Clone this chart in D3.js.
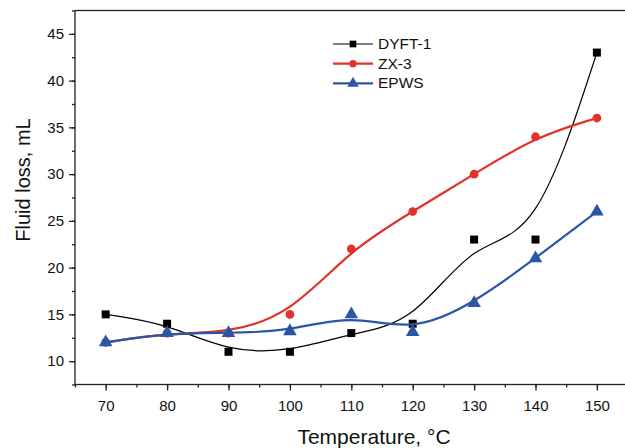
<!DOCTYPE html>
<html>
<head>
<meta charset="utf-8">
<script src="https://cdn.jsdelivr.net/npm/d3@7"></script>
<style>
  body { margin: 0; background: #fff; }
  svg { font-family: "Liberation Sans", Arial, sans-serif; }
</style>
</head>
<body>
<div id="chart"></div>
<script>
// temperatures, °C
var temps = [70, 80, 90, 100, 110, 120, 130, 140, 150];
// fluid loss, mL
var dyft = [15, 14, 11, 11, 13, 14, 23, 23, 43];
var zx3 = [12, 13, 13, 15, 22, 26, 30, 34, 36];
var epws = [12, 13, 13, 13.2, 15, 13.1, 16.2, 21, 26];
var seriesNames = ["DYFT-1", "ZX-3", "EPWS"];
var xTicks = [70, 80, 90, 100, 110, 120, 130, 140, 150];
var yTicks = [10, 15, 20, 25, 30, 35, 40, 45];

var W = 625, H = 448;
// plot box (right edge lies just past the window)
var plotLeft = 75, plotTop = 10.5, plotBottom = 384.5, plotRight = 627.6;

var svg = d3.select("#chart").append("svg")
    .attr("width", W)
    .attr("height", H);

var x = d3.scaleLinear().domain([65, 155]).range([plotLeft, plotRight]);
var y = d3.scaleLinear().domain([7.5, 47.5]).range([plotBottom, plotTop]);

// frame
svg.append("rect")
    .attr("x", plotLeft).attr("y", plotTop)
    .attr("width", plotRight - plotLeft).attr("height", plotBottom - plotTop)
    .attr("fill", "none").attr("stroke", "#222").attr("stroke-width", 1.3);

// minor ticks
svg.append("g")
    .attr("transform", "translate(0," + plotBottom + ")")
    .call(d3.axisBottom(x).tickValues(d3.range(65, 156, 5)).tickSize(3).tickFormat(""))
    .call(function (g) { g.select(".domain").remove(); });
svg.append("g")
    .attr("transform", "translate(" + plotLeft + ",0)")
    .call(d3.axisLeft(y).tickValues(d3.range(7.5, 47.6, 2.5)).tickSize(3).tickFormat(""))
    .call(function (g) { g.select(".domain").remove(); });

// major ticks
var xAxis = svg.append("g")
    .attr("transform", "translate(0," + plotBottom + ")")
    .call(d3.axisBottom(x).tickValues(xTicks).tickSize(6).tickPadding(10));
xAxis.select(".domain").remove();
xAxis.selectAll("text").attr("font-size", "15px").attr("fill", "#111");

var yAxis = svg.append("g")
    .attr("transform", "translate(" + plotLeft + ",0)")
    .call(d3.axisLeft(y).tickValues(yTicks).tickSize(6).tickPadding(5));
yAxis.select(".domain").remove();
yAxis.selectAll("text").attr("font-size", "15px").attr("fill", "#111");

svg.selectAll(".tick line").attr("stroke", "#222").attr("stroke-width", 1.3);

// axis titles
svg.append("text")
    .attr("x", 374).attr("y", 443.5)
    .attr("text-anchor", "middle")
    .attr("font-size", "21px")
    .attr("fill", "#111")
    .text("Temperature, \u00B0C");

svg.append("text")
    .attr("transform", "translate(30,180) rotate(-90)")
    .attr("text-anchor", "middle")
    .attr("font-size", "20px")
    .attr("fill", "#111")
    .text("Fluid loss, mL");

// series
var series = [
    { name: seriesNames[0], values: dyft, color: "#000000", width: 1.2, shape: d3.symbolSquare, size: 64 },
    { name: seriesNames[1], values: zx3, color: "#e2312b", width: 2.2, shape: d3.symbolCircle, size: 60 },
    { name: seriesNames[2], values: epws, color: "#2b56a6", width: 2.2, shape: d3.symbolTriangle, size: 80 }
];

var line = d3.line()
    .x(function (d) { return x(d[0]); })
    .y(function (d) { return y(d[1]); })
    .curve(d3.curveBasis);

series.forEach(function (s) {
    var pts = temps.map(function (t, i) { return [t, s.values[i]]; });
    svg.append("path")
        .datum(pts)
        .attr("d", line)
        .attr("fill", "none")
        .attr("stroke", s.color)
        .attr("stroke-width", s.width);
    svg.selectAll(null)
        .data(pts)
        .enter()
        .append("path")
        .attr("transform", function (d) { return "translate(" + x(d[0]) + "," + y(d[1]) + ")"; })
        .attr("d", d3.symbol().type(s.shape).size(s.size))
        .attr("fill", s.color);
});

// legend
var legend = svg.append("g").attr("transform", "translate(333,44)");
series.forEach(function (s, i) {
    var g = legend.append("g").attr("transform", "translate(0," + (i * 19.7) + ")");
    g.append("line")
        .attr("x1", 0).attr("x2", 40)
        .attr("stroke", s.color)
        .attr("stroke-width", s.width);
    g.append("path")
        .attr("transform", "translate(20,0)")
        .attr("d", d3.symbol().type(s.shape).size(s.size * 0.7))
        .attr("fill", s.color);
    g.append("text")
        .attr("x", 45).attr("y", 4.8)
        .attr("font-size", "15.5px")
        .attr("fill", "#111")
        .text(s.name);
});
</script>
</body>
</html>
